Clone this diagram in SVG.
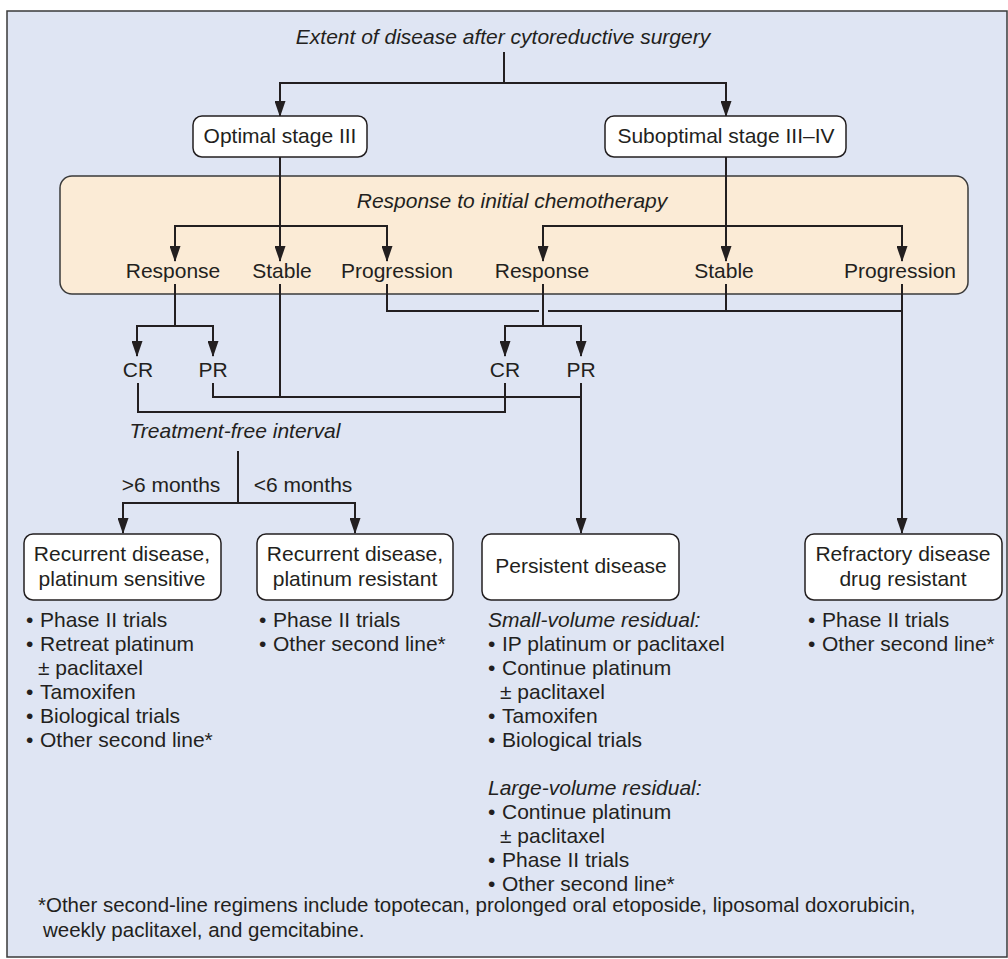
<svg xmlns="http://www.w3.org/2000/svg" width="1008" height="959" viewBox="0 0 1008 959">
  <style>
    text { font-family: "Liberation Sans", Arial, sans-serif; font-size: 21px; fill: #231f20; }
    .it { font-style: italic; }
    .mid { text-anchor: middle; }
    .note { font-size: 20.5px; }
    .box { fill: #ffffff; stroke: #231f20; stroke-width: 1.5; }
    .wire { fill: none; stroke: #231f20; stroke-width: 2; }
    .arrow { fill: none; stroke: #231f20; stroke-width: 2; marker-end: url(#head); }
  </style>
  <defs>
    <marker id="head" viewBox="0 0 16 11" refX="15" refY="5.5" markerWidth="16" markerHeight="11" markerUnits="userSpaceOnUse" orient="auto">
      <path d="M0,0 L16,5.5 L0,11 Z" fill="#231f20"/>
    </marker>
  </defs>

  <!-- background panel -->
  <rect x="7" y="11" width="1000" height="946" fill="#dfe5f3" stroke="#3a3a3a" stroke-width="1.5"/>

  <!-- chemotherapy response band -->
  <g id="response-band">
    <rect x="60" y="176" width="908" height="118" rx="12" fill="#fbebd6" stroke="#3a3a3a" stroke-width="1.5"/>
    <text class="it mid" x="512" y="208">Response to initial chemotherapy</text>
  </g>

  <g id="connectors">
    <!-- from extent of disease -->
    <path class="arrow" d="M504,52 V83 H280 V116"/>
    <path class="arrow" d="M504,83 H726 V116"/>
    <!-- optimal stage III to responses -->
    <path class="arrow" d="M280,157 V261"/>
    <path class="arrow" d="M280,226 H175 V261"/>
    <path class="arrow" d="M280,226 H387 V261"/>
    <!-- suboptimal to responses -->
    <path class="arrow" d="M726,157 V261"/>
    <path class="arrow" d="M726,226 H543 V261"/>
    <path class="arrow" d="M726,226 H902 V261"/>
    <!-- left response to CR / PR -->
    <path class="wire" d="M175,284 V326"/>
    <path class="arrow" d="M175,326 H137 V356"/>
    <path class="arrow" d="M175,326 H213 V356"/>
    <!-- right response to CR / PR -->
    <path class="wire" d="M543,284 V326"/>
    <path class="arrow" d="M543,326 H505 V356"/>
    <path class="arrow" d="M543,326 H581 V356"/>
    <!-- progression / stable bus to refractory -->
    <path class="wire" d="M387,284 V311 H539"/>
    <path class="wire" d="M548,311 H902"/>
    <path class="wire" d="M726,284 V311"/>
    <path class="arrow" d="M902,284 V533"/>
    <!-- left stable and PRs to persistent disease -->
    <path class="wire" d="M280,284 V397"/>
    <path class="wire" d="M213,383 V397 H581"/>
    <path class="arrow" d="M581,383 V533"/>
    <!-- complete responses -->
    <path class="wire" d="M138,383 V412 H505 V383"/>
    <!-- treatment-free interval split -->
    <path class="wire" d="M238,451 V503"/>
    <path class="arrow" d="M238,503 H123 V533"/>
    <path class="arrow" d="M238,503 H355 V533"/>
  </g>

  <g id="extent">
    <text class="it mid" x="503" y="44">Extent of disease after cytoreductive surgery</text>
  </g>

  <g id="optimal">
    <rect class="box" x="193" y="116" width="174" height="41" rx="9"/>
    <text class="mid" x="280" y="143">Optimal stage III</text>
  </g>

  <g id="suboptimal">
    <rect class="box" x="605" y="116" width="241" height="41" rx="9"/>
    <text class="mid" x="726" y="143">Suboptimal stage III–IV</text>
  </g>

  <g id="left-outcomes">
    <text class="mid" x="173" y="278">Response</text>
    <text class="mid" x="282" y="278">Stable</text>
    <text class="mid" x="397" y="278">Progression</text>
  </g>

  <g id="right-outcomes">
    <text class="mid" x="542" y="278">Response</text>
    <text class="mid" x="724" y="278">Stable</text>
    <text class="mid" x="900" y="278">Progression</text>
  </g>

  <g id="left-cr-pr">
    <text class="mid" x="138" y="377">CR</text>
    <text class="mid" x="213" y="377">PR</text>
  </g>

  <g id="right-cr-pr">
    <text class="mid" x="505" y="377">CR</text>
    <text class="mid" x="581" y="377">PR</text>
  </g>

  <g id="treatment-free">
    <text class="it mid" x="235" y="438">Treatment-free interval</text>
    <text class="mid" x="171" y="492">&gt;6 months</text>
    <text class="mid" x="303" y="492">&lt;6 months</text>
  </g>

  <g id="recurrent-sensitive">
    <rect class="box" x="24" y="534" width="197" height="66" rx="9"/>
    <text class="mid" x="122" y="561">Recurrent disease,</text>
    <text class="mid" x="122" y="586">platinum sensitive</text>
    <text x="26" y="627">•</text><text x="40" y="627">Phase II trials</text>
    <text x="26" y="651">•</text><text x="40" y="651">Retreat platinum</text>
    <text x="38" y="675">± paclitaxel</text>
    <text x="26" y="699">•</text><text x="40" y="699">Tamoxifen</text>
    <text x="26" y="723">•</text><text x="40" y="723">Biological trials</text>
    <text x="26" y="747">•</text><text x="40" y="747">Other second line*</text>
  </g>

  <g id="recurrent-resistant">
    <rect class="box" x="257" y="534" width="196" height="66" rx="9"/>
    <text class="mid" x="355" y="561">Recurrent disease,</text>
    <text class="mid" x="355" y="586">platinum resistant</text>
    <text x="259" y="627">•</text><text x="273" y="627">Phase II trials</text>
    <text x="259" y="651">•</text><text x="273" y="651">Other second line*</text>
  </g>

  <g id="persistent">
    <rect class="box" x="482" y="534" width="197" height="66" rx="9"/>
    <text class="mid" x="581" y="573">Persistent disease</text>
    <text class="it" x="488" y="627">Small-volume residual:</text>
    <text x="488" y="651">•</text><text x="502" y="651">IP platinum or paclitaxel</text>
    <text x="488" y="675">•</text><text x="502" y="675">Continue platinum</text>
    <text x="500" y="699">± paclitaxel</text>
    <text x="488" y="723">•</text><text x="502" y="723">Tamoxifen</text>
    <text x="488" y="747">•</text><text x="502" y="747">Biological trials</text>
    <text class="it" x="488" y="795">Large-volume residual:</text>
    <text x="488" y="819">•</text><text x="502" y="819">Continue platinum</text>
    <text x="500" y="843">± paclitaxel</text>
    <text x="488" y="867">•</text><text x="502" y="867">Phase II trials</text>
    <text x="488" y="891">•</text><text x="502" y="891">Other second line*</text>
  </g>

  <g id="refractory">
    <rect class="box" x="805" y="534" width="197" height="66" rx="9"/>
    <text class="mid" x="903" y="561">Refractory disease</text>
    <text class="mid" x="903" y="586">drug resistant</text>
    <text x="808" y="627">•</text><text x="822" y="627">Phase II trials</text>
    <text x="808" y="651">•</text><text x="822" y="651">Other second line*</text>
  </g>

  <g id="footnote">
    <text class="note" x="38" y="912">*Other second-line regimens include topotecan, prolonged oral etoposide, liposomal doxorubicin,</text>
    <text class="note" x="43" y="937">weekly paclitaxel, and gemcitabine.</text>
  </g>
</svg>
